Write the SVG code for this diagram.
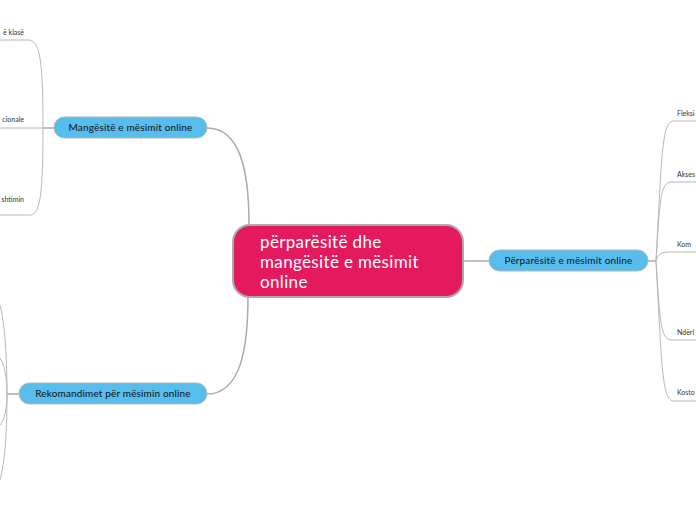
<svg xmlns="http://www.w3.org/2000/svg" width="696" height="520" viewBox="0 0 696 520">
<style>
.main{fill:#E5195E;stroke:#aaaaaa;stroke-width:2}
.sub{fill:#56BDED;stroke:#b5b5b5;stroke-width:1}
.tmain{font-family:Lato,"Open Sans",sans-serif;font-size:17px;letter-spacing:0.35px;fill:#ffffff}
.tsub{font-family:Lato,"Open Sans",sans-serif;font-size:10px;letter-spacing:0.15px;fill:#111111;text-anchor:middle}
.tleaf{font-family:Lato,"Open Sans",sans-serif;font-size:7px;fill:#333333}
.c1{fill:none;stroke:#aaaaaa;stroke-width:1.5}
.c2{fill:none;stroke:#b8b8b8;stroke-width:1}
</style>
<rect width="696" height="520" fill="#ffffff"/>
<g id="connectors">
<path class="c1" d="M207,128 C240,128 249,170 249,225"/>
<path class="c1" d="M207,394 C240,394 248,350 248,297"/>
<path class="c1" d="M463,261 L489,261"/>
<path class="c1" d="M54,128 L43,128"/>
<path class="c2" d="M43,128 C43,60 40,40 28,40 L0,40"/>
<path class="c2" d="M43,128 L0,128"/>
<path class="c2" d="M43,128 C43,195 40,215 30,215 L0,215"/>
<path class="c1" d="M19,394 L7,394"/>
<path class="c2" d="M7,394 C7,350 4,320 0,305"/>
<path class="c2" d="M7,394 C7,440 4,465 0,480"/>
<path class="c2" d="M7,394 C7,375 4,365 0,358"/>
<path class="c2" d="M7,394 C7,410 4,420 0,425"/>
<path class="c1" d="M648,261 L656,261"/>
<path class="c2" d="M656,261 C662,150 662,121 674,121 L696,121"/>
<path class="c2" d="M656,261 C660,200 660,182 672,182 L696,182"/>
<path class="c2" d="M656,261 C658,254 661,252 670,252 L696,252"/>
<path class="c2" d="M656,261 C660,320 660,340 672,340 L696,340"/>
<path class="c2" d="M656,261 C662,370 662,401 674,401 L696,401"/>
</g>
<g id="central">
<rect class="main" x="233" y="225" width="230" height="72" rx="17"/>
<text class="tmain" x="260" y="248">përparësitë dhe</text>
<text class="tmain" x="260" y="268">mangësitë e mësimit</text>
<text class="tmain" x="260" y="288">online</text>
</g>
<g id="mangesite">
<rect class="sub" x="54" y="117" width="153" height="21" rx="10.5"/>
<text class="tsub" x="130.5" y="131">Mangësitë e mësimit online</text>
</g>
<g id="rekomandimet">
<rect class="sub" x="19" y="383" width="188" height="21" rx="10.5"/>
<text class="tsub" x="113" y="397">Rekomandimet për mësimin online</text>
</g>
<g id="perparesite">
<rect class="sub" x="489" y="250" width="159" height="21" rx="10.5"/>
<text class="tsub" x="568.5" y="264">Përparësitë e mësimit online</text>
</g>
<g id="leaf-m1"><text class="tleaf" x="24" y="35" text-anchor="end">ë klasë</text></g>
<g id="leaf-m2"><text class="tleaf" x="24" y="122" text-anchor="end">cionale</text></g>
<g id="leaf-m3"><text class="tleaf" x="24" y="202" text-anchor="end">shtimin</text></g>
<g id="leaf-p1"><text class="tleaf" x="677" y="116">Fleksi</text></g>
<g id="leaf-p2"><text class="tleaf" x="677" y="177">Akses</text></g>
<g id="leaf-p3"><text class="tleaf" x="677" y="247">Kom</text></g>
<g id="leaf-p4"><text class="tleaf" x="677" y="335">Ndërl</text></g>
<g id="leaf-p5"><text class="tleaf" x="677" y="395">Kosto</text></g>
</svg>
